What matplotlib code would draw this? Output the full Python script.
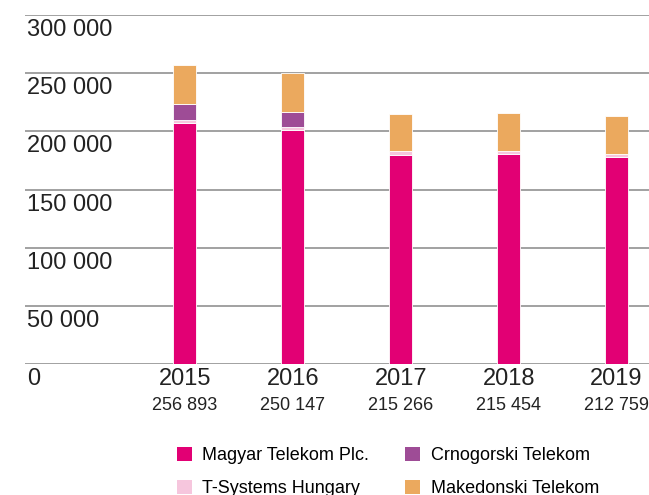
import numpy as np
import matplotlib.pyplot as plt
from matplotlib.patches import Patch
from matplotlib.transforms import blended_transform_factory

plt.rcParams['font.family'] = ['Liberation Sans', 'DejaVu Sans']

years = ['2015', '2016', '2017', '2018', '2019']
totals = [256893, 250147, 215266, 215454, 212759]
magyar = [207000, 201500, 180000, 180500, 178000]
tsystems = [3000, 2500, 3500, 3000, 2800]
crnogorski = [13500, 13000, 0, 0, 0]
makedonski = [33393, 33147, 31766, 31954, 31959]

series = [
    ('Magyar Telekom Plc.', magyar, '#e20074'),
    ('T-Systems Hungary', tsystems, '#f6c6dd'),
    ('Crnogorski Telekom', crnogorski, '#9e4c96'),
    ('Makedonski Telekom', makedonski, '#eba95e'),
]
yticks = [0, 50000, 100000, 150000, 200000, 250000, 300000]

fig = plt.figure(figsize=(6.49, 4.95), dpi=100)
ax = fig.add_axes([25 / 649, 1 - 364 / 495, 1 - 25 / 649, 349 / 495])

x = np.arange(len(years))
bottom = np.zeros(len(years))
for name, vals, color in series:
    vals = np.array(vals)
    ax.bar(x, vals, bottom=bottom, width=0.21, color=color,
           edgecolor='white', linewidth=0.6, zorder=3)
    bottom += vals

trans = blended_transform_factory(ax.transAxes, ax.transData)
for v in yticks:
    ax.axhline(v, color='#9a9a9a', linewidth=1.3, zorder=1)
    ax.text(0.003, v - 3500, f'{v:,}'.replace(',', ' '), transform=trans,
            ha='left', va='top', fontsize=17, color='#222222')

xtrans = blended_transform_factory(ax.transData, ax.transAxes)
for i, (yr, tot) in enumerate(zip(years, totals)):
    ax.text(i, -0.012, yr, transform=xtrans, ha='center', va='top',
            fontsize=17, color='#222222')
    ax.text(i, -0.095, f'{tot:,}'.replace(',', ' '), transform=xtrans,
            ha='center', va='top', fontsize=13, color='#222222')

ax.set_xlim(-1.48, 4.30)
ax.set_ylim(0, 300000)
ax.axis('off')

handles = [Patch(facecolor=c, label=n) for n, _, c in series]
fig.legend(handles=handles, ncol=2, loc='upper left',
           bbox_to_anchor=(170 / 649, 1 - 440 / 495), frameon=False,
           fontsize=13, handlelength=0.8, handleheight=0.8,
           handletextpad=0.6, columnspacing=2.0, labelspacing=0.85,
           borderaxespad=0)

fig.savefig('out.png', dpi=100)
